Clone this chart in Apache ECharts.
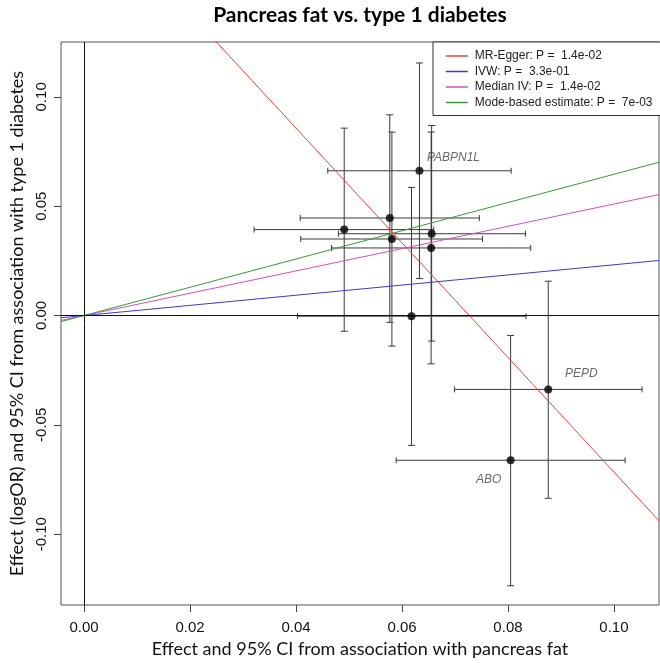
<!DOCTYPE html>
<html>
<head>
<meta charset="utf-8">
<script src="https://cdn.jsdelivr.net/npm/echarts@6/dist/echarts.min.js"></script>
<style>
  html, body { margin: 0; padding: 0; background: #fff; }
  #chart { width: 660px; height: 663px; }
</style>
</head>
<body>
<div id="chart"></div>
<script>
// variants
const snpNames = ['PABPN1L', '', '', '', '', '', '', 'PEPD', 'ABO'];
const betaX = [0.0633, 0.0577, 0.0581, 0.0491, 0.0656, 0.0655, 0.0618, 0.0876, 0.0805];
const betaY = [0.0662, 0.0446, 0.0350, 0.0393, 0.0374, 0.0309, -0.0003, -0.0338, -0.0662];
const xLow = [0.0460, 0.0408, 0.0409, 0.0321, 0.0480, 0.0467, 0.0403, 0.0699, 0.0589];
const xHigh = [0.0806, 0.0746, 0.0752, 0.0660, 0.0833, 0.0843, 0.0834, 0.1053, 0.1021];
const yLow = [0.0169, -0.0031, -0.0140, -0.0072, -0.0117, -0.0221, -0.0594, -0.0836, -0.1236];
const yHigh = [0.1155, 0.0918, 0.0839, 0.0857, 0.0869, 0.0839, 0.0586, 0.0157, -0.0091];

// MR estimates
const methodNames = ['MR-Egger', 'IVW', 'Median IV', 'Mode-based estimate'];
const methodP = ['1.4e-02', '3.3e-01', '1.4e-02', '7e-03'];
const methodSlopes = [-2.622, 0.232, 0.510, 0.646];
const methodIntercepts = [0.1906, 0, 0, 0];

// axes
const xTicks = [0, 0.02, 0.04, 0.06, 0.08, 0.10];
const yTicks = [-0.10, -0.05, 0, 0.05, 0.10];
const xRange = [-0.00434, 0.1085];
const yRange = [-0.1324, 0.1251];

const methodColors = ['#e8433d', '#3a3ad6', '#d84fb8', '#3a9a3a'];
const labelOffsets = { PABPN1L: [34, -13], PEPD: [33, -16], ABO: [-22, 19] };

function renderErrorBar(params, api) {
    const x = api.value(0), y = api.value(1);
    const l = api.coord([api.value(2), y]);
    const r = api.coord([api.value(3), y]);
    const b = api.coord([x, api.value(4)]);
    const t = api.coord([x, api.value(5)]);
    const style = { stroke: '#3a3a3a', lineWidth: 1 };
    const hc = 3, vc = 3.5;
    const seg = (x1, y1, x2, y2) => ({ type: 'line', shape: { x1, y1, x2, y2 }, style });
    return {
        type: 'group',
        children: [
            seg(l[0], l[1], r[0], r[1]),
            seg(l[0], l[1] - hc, l[0], l[1] + hc),
            seg(r[0], r[1] - hc, r[0], r[1] + hc),
            seg(b[0], b[1], t[0], t[1]),
            seg(b[0] - vc, b[1], b[0] + vc, b[1]),
            seg(t[0] - vc, t[1], t[0] + vc, t[1])
        ]
    };
}

const errData = betaX.map((x, i) => [x, betaY[i], xLow[i], xHigh[i], yLow[i], yHigh[i]]);

const pointData = betaX.map((x, i) => {
    const item = { value: [x, betaY[i]], name: snpNames[i] };
    if (snpNames[i]) {
        item.label = { show: true, offset: labelOffsets[snpNames[i]] };
    }
    return item;
});

const lineSeries = methodNames.map((name, i) => ({
    name: name + ': P =  ' + methodP[i],
    type: 'line',
    symbol: 'none',
    showSymbol: false,
    silent: true,
    z: 4,
    clip: true,
    color: methodColors[i],
    lineStyle: { color: methodColors[i], width: 1 },
    itemStyle: { color: methodColors[i] },
    data: xRange.map(x => [x, methodIntercepts[i] + methodSlopes[i] * x])
}));

const chart = echarts.init(document.getElementById('chart'), null, { renderer: 'canvas' });
chart.setOption({
    backgroundColor: '#fff',
    animation: false,
    title: {
        text: 'Pancreas fat vs. type 1 diabetes',
        left: 360,
        top: 5,
        padding: 0,
        textAlign: 'center',
        textStyle: { fontFamily: 'Lato', fontWeight: 'bold', fontSize: 21, color: '#000' }
    },
    grid: {
        left: 61, right: 1, top: 42, bottom: 57,
        show: true, borderColor: '#555', borderWidth: 1, backgroundColor: 'transparent'
    },
    legend: {
        orient: 'vertical',
        left: 433,
        top: 42,
        padding: [8, 30, 7, 12],
        itemGap: 3.5,
        itemWidth: 22,
        itemHeight: 12,
        backgroundColor: '#fff',
        borderColor: '#333',
        borderWidth: 1,
        borderRadius: 0,
        selectedMode: false,
        itemStyle: { opacity: 0 },
        lineStyle: { width: 1.5 },
        textStyle: { fontFamily: 'Liberation Sans', fontSize: 12, color: '#222', padding: [0, 0, 0, 2] },
        data: lineSeries.map(s => s.name)
    },
    xAxis: {
        type: 'value',
        min: xRange[0],
        max: xRange[1],
        splitLine: { show: false },
        axisLine: { show: false, onZero: false },
        axisTick: { show: true, length: 7, customValues: xTicks, lineStyle: { color: '#444' } },
        axisLabel: {
            customValues: xTicks,
            margin: 15,
            fontFamily: 'Liberation Sans',
            fontSize: 15,
            color: '#111',
            formatter: v => v.toFixed(2)
        },
        name: 'Effect and 95% CI from association with pancreas fat',
        nameLocation: 'middle',
        nameGap: 35,
        nameTextStyle: { fontFamily: 'Lato', fontSize: 18, color: '#111' }
    },
    yAxis: {
        type: 'value',
        min: yRange[0],
        max: yRange[1],
        splitLine: { show: false },
        axisLine: { show: false, onZero: false },
        axisTick: { show: true, length: 7, customValues: yTicks, lineStyle: { color: '#444' } },
        axisLabel: {
            customValues: yTicks,
            rotate: 90,
            margin: 12,
            fontFamily: 'Liberation Sans',
            fontSize: 15,
            color: '#111',
            formatter: v => v.toFixed(2)
        },
        name: 'Effect (logOR) and 95% CI from association with type 1 diabetes',
        nameLocation: 'middle',
        nameGap: 31,
        nameTextStyle: { fontFamily: 'Lato', fontSize: 18, color: '#111' }
    },
    series: [
        {
            type: 'custom',
            name: 'CI',
            renderItem: renderErrorBar,
            data: errData,
            encode: { x: 0, y: 1 },
            clip: true,
            silent: true,
            z: 2,
            markLine: {
                silent: true,
                symbol: 'none',
                label: { show: false },
                lineStyle: { color: '#111', width: 1, type: 'solid' },
                data: [{ xAxis: 0 }, { yAxis: 0 }]
            }
        },
        ...lineSeries,
        {
            type: 'scatter',
            name: 'SNPs',
            symbol: 'circle',
            symbolSize: 8,
            z: 5,
            itemStyle: { color: '#000' },
            label: {
                show: false,
                position: 'inside',
                formatter: '{b}',
                fontFamily: 'Liberation Sans',
                fontStyle: 'italic',
                fontSize: 12,
                color: '#444'
            },
            data: pointData
        }
    ]
});
</script>
</body>
</html>
